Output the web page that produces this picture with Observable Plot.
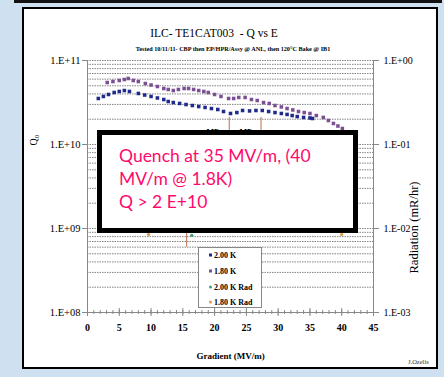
<!DOCTYPE html>
<html><head><meta charset="utf-8">
<script src="https://cdn.jsdelivr.net/npm/d3@7"></script>
<script src="https://cdn.jsdelivr.net/npm/@observablehq/plot@0.6"></script>
<style>
html,body{margin:0;padding:0;}
body{width:444px;height:377px;position:relative;overflow:hidden;background:#cfe0f1;font-family:"Liberation Serif","Times New Roman",serif;}
#topbar{position:absolute;left:14px;top:0;width:428px;height:3px;background:#111;}
#panel{position:absolute;left:22px;top:7px;width:416px;height:362px;box-sizing:border-box;border:2px solid #000;background:#fff;overflow:hidden;}
#sig{position:absolute;left:384px;top:349px;font-size:6.5px;line-height:7px;white-space:nowrap;color:#333;}
#chart{position:absolute;left:0;top:0;}
.ttl{position:absolute;white-space:nowrap;transform:translate(-50%,-50%);color:#000;}
#note{position:absolute;left:97px;top:130px;width:261px;height:103px;box-sizing:border-box;border:5px solid #000;background:#fff;
  font-family:Lato,"Open Sans",sans-serif;font-size:17.5px;line-height:23px;color:#ff0a6c;padding:9px 0 0 17px;white-space:nowrap;}
#legend{position:absolute;left:198px;top:247px;width:64px;height:61px;box-sizing:border-box;border:1px solid #888;background:#fff;}
.li{position:absolute;left:10px;font-size:8px;font-weight:bold;white-space:nowrap;transform:translateY(-50%);}
.li i{display:inline-block;width:3px;height:3px;margin-right:2px;vertical-align:middle;position:relative;top:-1px;}
</style></head>
<body>
<div id="topbar"></div>
<div id="panel"><div id="sig">J.Ozelis</div></div>
<div class="ttl" style="left:214px;top:33px;font-size:11.5px;">ILC- TE1CAT003&nbsp; - Q vs E</div>
<div class="ttl" style="left:233px;top:48px;font-size:6.2px;font-weight:bold;">Tested 10/11/11- CBP then EP/HPR/Assy @ ANL, then 120°C Bake @ IB1</div>
<div id="chart"></div>
<div id="note">Quench at 35 MV/m, (40<br>MV/m @ 1.8K)<br>Q &gt; 2 E+10</div>
<div id="legend"></div>
<script>
// 2.00 K series: gradient (MV/m) and Q0
const E_200K = [1.7,2.5,3.3,4.2,5,5.8,6.6,8,9,10,11,12,12.7,13.5,14.5,15.5,16.5,17.5,18.5,19.5,20.5,21.4,22.5,23.5,24.4,25.5,26.5,27.5,28.5,29.5,30.5,31.4,32.2,33,34,35,35.4];
const Q_200K = [3.53e10,3.73e10,3.94e10,4.16e10,4.28e10,4.39e10,4.28e10,4.05e10,3.88e10,3.73e10,3.58e10,3.43e10,3.25e10,3.16e10,3.08e10,2.99e10,2.91e10,2.83e10,2.76e10,2.68e10,2.61e10,2.47e10,2.34e10,2.40e10,2.54e10,2.51e10,2.54e10,2.54e10,2.47e10,2.40e10,2.34e10,2.28e10,2.21e10,2.15e10,2.10e10,2.07e10,2.04e10];
// 1.80 K series
const E_180K = [3.1,4,5,5.8,6.4,7.2,8,9.1,10,11,12,12.7,13.5,14.3,15.2,15.9,16.7,17.5,18.3,19,20,21,22.2,23,23.8,24.8,25.8,26.7,27.7,28.6,29.5,30.5,31.4,32.3,33.2,34.1,35,36,37.1,37.9,38.7,39.4,40.1];
const Q_180K = [5.47e10,5.62e10,5.78e10,5.94e10,6.11e10,5.78e10,5.62e10,5.32e10,5.11e10,4.90e10,4.64e10,4.52e10,4.39e10,4.52e10,4.64e10,4.64e10,4.52e10,4.39e10,4.28e10,4.16e10,3.94e10,3.73e10,3.53e10,3.53e10,3.63e10,3.63e10,3.43e10,3.34e10,3.16e10,3.08e10,2.91e10,2.80e10,2.68e10,2.58e10,2.47e10,2.40e10,2.34e10,2.21e10,2.10e10,1.93e10,1.78e10,1.66e10,1.55e10];
// radiation (mR/hr)
const E_200K_Rad = [16.4];
const R_200K_Rad = [0.0083];
const E_180K_Rad = [9.6, 40.0];
const R_180K_Rad = [0.0085, 0.0085];
// radiation spikes (vertical lines): gradient, low, high
const E_spike = [15.6, 22.3, 27.3];
const R_spike_lo = [0.0060, 0.0095, 0.0095];
const R_spike_hi = [0.0105, 0.21, 0.21];
// multipacting labels
const E_MP = [19.7, 24.9];
const R_MP = [0.15, 0.15];
const MP_text = ["MP", "MP"];
// ticks
const xMajor = [0,5,10,15,20,25,30,35,40,45];
const xMinor = d3.range(0, 46, 1);
const yMajor = [1e8, 1e9, 1e10, 1e11];
const yMinor = [];
for (const k of [8,9,10]) for (let m = 1; m <= 9; m++) yMinor.push(m * 10 ** k);
yMinor.push(1e11);

const QtoR = 1e-11; // right axis: 1.E+11 <-> 1.E+00
const cols = {q20:"#1f2a8c", q18:"#7b4f93", r20:"#3f9c82", r18:"#e39a45", spike:"#b8704c"};

const s20 = E_200K.map((E,i)=>({E, Q:Q_200K[i]}));
const s18 = E_180K.map((E,i)=>({E, Q:Q_180K[i]}));
const r20 = E_200K_Rad.map((E,i)=>({E, R:R_200K_Rad[i]}));
const r18 = E_180K_Rad.map((E,i)=>({E, R:R_180K_Rad[i]}));
const spikes = E_spike.map((E,i)=>({E, lo:R_spike_lo[i], hi:R_spike_hi[i]}));
const mp = E_MP.map((E,i)=>({E, R:R_MP[i], t:MP_text[i]}));

const exp = d => Math.round(Math.log10(d));
const fmtE = e => "1.E" + (e < 0 ? "-" : "+") + String(Math.abs(e)).padStart(2, "0");

const chart = Plot.plot({
  width: 444, height: 377,
  marginLeft: 87, marginRight: 71, marginTop: 60, marginBottom: 65,
  style: {background: "transparent", fontFamily: "'Liberation Serif','Times New Roman',serif", color: "#000"},
  x: {domain: [0, 45]},
  y: {type: "log", domain: [1e8, 1e11]},
  marks: [
    Plot.gridY(yMinor, {stroke: "#666", strokeOpacity: 0.8, strokeDasharray: "1.5,1"}),
    Plot.ruleX([0, 45], {stroke: "#888"}),
    Plot.ruleY([1e8], {stroke: "#888"}),
    Plot.axisY(yMajor, {anchor: "left", tickSize: 5, tickPadding: 2, tickFormat: d => fmtE(exp(d)), fontSize: 10.5, label: null, stroke: "#888"}),
    Plot.axisY(yMajor, {anchor: "right", tickSize: 5, tickPadding: 5, tickFormat: d => fmtE(exp(d * QtoR)), fontSize: 10, label: null, stroke: "#888"}),
    Plot.axisX(xMajor, {anchor: "bottom", tickSize: 4, tickPadding: 7, fontSize: 10, fontWeight: "bold", label: null, stroke: "#888"}),
    Plot.axisX(xMinor, {anchor: "bottom", tickSize: 2, text: null, label: null, stroke: "#888"}),
    Plot.axisX(xMajor, {anchor: "bottom", tickSize: -4, text: null, label: null, stroke: "#888"}),
    Plot.axisX(xMinor, {anchor: "bottom", tickSize: -2, text: null, label: null, stroke: "#888"}),
    Plot.ruleX(spikes, {x: "E", y1: d => d.lo / QtoR, y2: d => d.hi / QtoR, stroke: cols.spike}),
    Plot.dot(r20, {x: "E", y: d => d.R / QtoR, r: 1.6, fill: cols.r20}),
    Plot.dot(r18, {x: "E", y: d => d.R / QtoR, r: 1.6, fill: cols.r18}),
    Plot.text(mp, {x: "E", y: d => d.R / QtoR, text: "t", fontSize: 8, fontWeight: "bold", lineAnchor: "top"}),
    Plot.dot(s20, {x: "E", y: "Q", symbol: "square", r: 2, fill: cols.q20}),
    Plot.dot(s18, {x: "E", y: "Q", symbol: "square", r: 2, fill: cols.q18}),
    Plot.text(["Q₀"], {text: d => d, frameAnchor: "left", dx: -54, dy: -41, rotate: -90, fontSize: 10}),
    Plot.text(["Radiation (mR/hr)"], {text: d => d, frameAnchor: "right", dx: 40, dy: -5, rotate: -90, fontSize: 12.5}),
    Plot.text(["Gradient (MV/m)"], {text: d => d, frameAnchor: "bottom", dy: 46, fontSize: 9, fontWeight: "bold"})
  ]
});
document.getElementById("chart").appendChild(chart);

// legend
const legendItems = [["2.00 K", cols.q20], ["1.80 K", cols.q18], ["2.00 K Rad", cols.r20], ["1.80 K Rad", cols.r18]];
const lg = document.getElementById("legend");
const ly = [7, 23, 39, 54];
legendItems.forEach(([t, c], i) => {
  const d = document.createElement("div");
  d.className = "li";
  d.style.top = ly[i] + "px";
  d.innerHTML = `<i style="background:${c};${i>1?'border-radius:50%;':''}"></i>${t}`;
  lg.appendChild(d);
});
</script>
</body></html>
